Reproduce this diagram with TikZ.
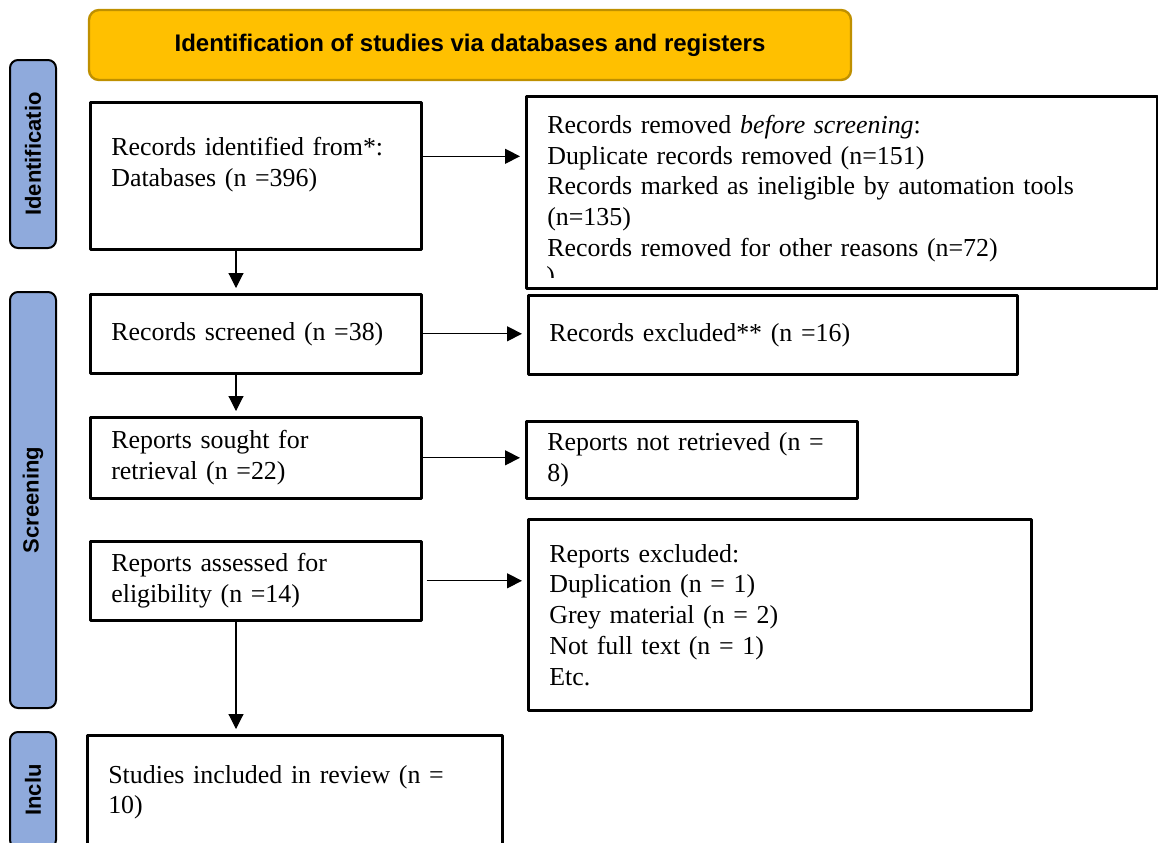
\documentclass[tikz,border=0pt]{standalone}
\usepackage{fontspec}
\setmainfont{Liberation Serif}
\setsansfont{Liberation Sans}
\usetikzlibrary{arrows.meta}

\definecolor{cBanner}{HTML}{FFC000}
\definecolor{cBannerEdge}{HTML}{BF9000}
\definecolor{cPhase}{HTML}{8FAADC}

\tikzset{
  flowbox/.style={draw, line width=1.3pt, anchor=north west, align=left,
    inner xsep=10.5pt, inner ysep=0pt, font=\fontsize{12.95}{15.35}\selectfont},
  phasebar/.style={draw, line width=1pt, fill=cPhase, rounded corners=4pt, rotate=90,
    minimum height=23pt, inner sep=0pt, font=\sffamily\bfseries\fontsize{11}{13}\selectfont},
  flowarrow/.style={line width=0.55pt, -{Triangle[length=7.5pt,width=7.5pt]}, shorten >=2.5pt},
}

\begin{document}
\begin{tikzpicture}[x=0.5pt, y=-0.5pt, line join=round]
  \useasboundingbox (0,0) rectangle (1158,842);

  % banner
  \node[draw=cBannerEdge, fill=cBanner, line width=1.2pt, rounded corners=5pt,
        minimum width=381pt, minimum height=35pt,
        font=\sffamily\bfseries\fontsize{12}{14}\selectfont] (banner) at (470,45)
        {Identification of studies via databases and registers};

  % phase bars
  \node[phasebar, minimum width=94pt] (idbar) at (33,154) {Identificatio};
  \node[phasebar, minimum width=208pt] (scbar) at (33,500) {Screening};
  \node[phasebar, minimum width=58pt] (inbar) at (33,790) {Inclu};

  % left column
  \node[flowbox, text width=144.5pt, minimum height=73.5pt, text depth=29pt] (ident) at (89,101)
    {Records identified from*:\\Databases (n =396)};
  \node[flowbox, text width=144.5pt, minimum height=39.5pt] (screened) at (89,293)
    {Records screened (n =38)};
  \node[flowbox, text width=144.5pt, minimum height=40.5pt] (sought) at (89,416)
    {Reports sought for\\retrieval (n =22)};
  \node[flowbox, text width=144.5pt, minimum height=39.5pt] (assessed) at (89,540)
    {Reports assessed for\\eligibility (n =14)};
  \node[flowbox, text width=186.5pt, minimum height=57pt] (included) at (86,734)
    {Studies included in review (n =\\10)};

  % right column
  \node[flowbox, text width=294.5pt, minimum height=96pt, text depth=68pt] (removed) at (525,95)
    {Records removed \textit{before screening}:\\Duplicate records removed (n=151)\\
     Records marked as ineligible by automation tools\\(n=135)\\
     Records removed for other reasons (n=72)};
  \begin{scope}
    \clip (530,255) rectangle (1150,277);
    \node[anchor=base west, inner sep=0pt, font=\fontsize{12.95}{15.35}\selectfont]
      (removedtail) at (546,284) {)};
  \end{scope}
  \node[flowbox, text width=223.5pt, minimum height=39.5pt] (excluded) at (527,294)
    {Records excluded** (n =16)};
  \node[flowbox, text width=144.5pt, minimum height=38.5pt] (notretr) at (525,420)
    {Reports not retrieved (n =\\8)};
  \node[flowbox, text width=230.5pt, minimum height=95.5pt] (repexcl) at (527,518)
    {Reports excluded:\\Duplication (n = 1)\\Grey material (n = 2)\\
     Not full text (n = 1)\\Etc.};

  % connectors
  \coordinate (spine) at (236,0);
  \draw[flowarrow] (ident.south -| spine) -- (screened.north -| spine);
  \draw[flowarrow] (screened.south -| spine) -- (sought.north -| spine);
  \draw[flowarrow] (assessed.south -| spine) -- (included.north -| spine);

  \draw[flowarrow] ([yshift=9.75pt]ident.east) -- ([yshift=9.75pt]ident.east -| removed.west);
  \draw[flowarrow] (screened.east) -- (screened.east -| excluded.west);
  \draw[flowarrow] (sought.east) -- (sought.east -| notretr.west);
  \draw[flowarrow, shorten <=2pt] (assessed.east) -- (assessed.east -| repexcl.west);
\end{tikzpicture}
\end{document}
